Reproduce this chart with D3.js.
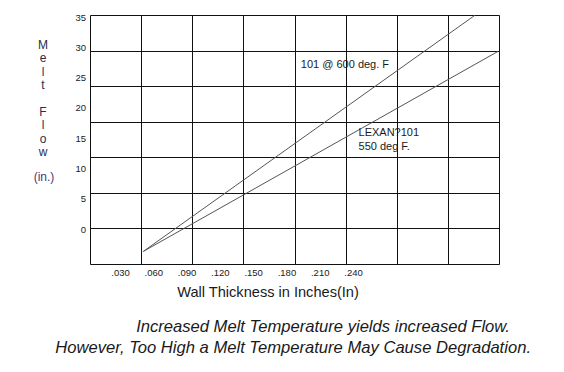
<!DOCTYPE html>
<meta charset="utf-8">
<style>

body { margin: 0; background: #fff; }

text {
  font-family: "Liberation Sans", Arial, sans-serif;
  fill: #1a1a1a;
}

.grid line {
  stroke: #111;
  stroke-width: 1px;
}

.flow {
  fill: none;
  stroke: #555;
  stroke-width: 1px;
}

.tick text { font-size: 9.5px; }

</style>
<svg width="564" height="372"></svg>
<script src="https://d3js.org/d3.v7.min.js"></script>
<script>

// tick labels as printed on the chart
var xTickValues = [0.03, 0.06, 0.09, 0.12, 0.15, 0.18, 0.21, 0.24],
    xTickLabels = [".030", ".060", ".090", ".120", ".150", ".180", ".210", ".240"],
    yTickValues = [0, 5, 10, 15, 20, 25, 30, 35];

// melt flow lines, [wall thickness, melt flow]
var flow600 = [[0.051, -3.7], [0.350, 35.3]],
    flow550 = [[0.051, -3.7], [0.3705, 29.3]];

var labels = [
  {x: 0.193, y: 26.6, lines: ["101 @ 600 deg. F"]},
  {x: 0.245, y: 15.3, lines: ["LEXAN?101", "550 deg F."]}
];

var yTitle = ["M", "e", "l", "t", "", "F", "l", "o", "w"];

var svg = d3.select("svg");

var x = d3.scaleLinear().domain([0.03, 0.24]).range([120, 353]),
    y = d3.scaleLinear().domain([0, 35]).range([229, 17]);

// the grid on this chart is drawn in its own cells, not on the ticks
var gx = d3.scaleLinear().domain([0, 8]).range([90, 499]),
    gy = d3.scaleLinear().domain([0, 7]).range([15, 264]);

function px(v) { return Math.round(v) + 0.5; }

var grid = svg.append("g").attr("class", "grid");

grid.selectAll(".v")
  .data(d3.range(9))
  .enter().append("line")
    .attr("x1", function(d) { return px(gx(d)); })
    .attr("x2", function(d) { return px(gx(d)); })
    .attr("y1", px(gy(0)))
    .attr("y2", px(gy(7)));

grid.selectAll(".h")
  .data(d3.range(8))
  .enter().append("line")
    .attr("x1", px(gx(0)))
    .attr("x2", px(gx(8)))
    .attr("y1", function(d) { return px(gy(d)); })
    .attr("y2", function(d) { return px(gy(d)); });

var line = d3.line()
    .x(function(d) { return x(d[0]); })
    .y(function(d) { return y(d[1]); });

svg.selectAll(".flow")
  .data([flow600, flow550])
  .enter().append("path")
    .attr("class", "flow")
    .attr("d", line);

var xAxis = svg.append("g")
    .attr("transform", "translate(0,266)")
    .call(d3.axisBottom(x)
      .tickValues(xTickValues)
      .tickFormat(function(d, i) { return xTickLabels[i]; })
      .tickSize(0)
      .tickPadding(3));

var yAxis = svg.append("g")
    .attr("transform", "translate(86,0)")
    .call(d3.axisLeft(y)
      .tickValues(yTickValues)
      .tickSize(0)
      .tickPadding(0));

xAxis.select(".domain").remove();
yAxis.select(".domain").remove();
svg.selectAll(".tick text").attr("fill", "#1a1a1a").style("font-family", "'Liberation Sans', Arial, sans-serif");

labels.forEach(function(l) {
  var t = svg.append("text")
      .attr("x", x(l.x))
      .attr("y", y(l.y))
      .style("font-size", "11px");
  t.selectAll("tspan")
    .data(l.lines)
    .enter().append("tspan")
      .attr("x", x(l.x))
      .attr("dy", function(d, i) { return i ? "1.2em" : 0; })
      .text(function(d) { return d; });
});

svg.selectAll(".ytitle")
  .data(yTitle)
  .enter().append("text")
    .attr("x", 43)
    .attr("y", function(d, i) { return 49 + i * 13.4; })
    .attr("text-anchor", "middle")
    .style("font-size", "12px")
    .style("fill", "#2c2c4a")
    .text(function(d) { return d; });

svg.append("text")
    .attr("x", 44)
    .attr("y", 181)
    .attr("text-anchor", "middle")
    .style("font-size", "12px")
    .style("fill", "#4a3580")
    .text("(in.)");

svg.append("text")
    .attr("x", 268)
    .attr("y", 297)
    .attr("text-anchor", "middle")
    .style("font-size", "14.6px")
    .text("Wall Thickness in Inches(In)");

svg.append("text")
    .attr("x", 510)
    .attr("y", 332)
    .attr("text-anchor", "end")
    .style("font-size", "16.6px")
    .style("font-style", "italic")
    .text("Increased Melt Temperature yields increased Flow.");

svg.append("text")
    .attr("x", 531)
    .attr("y", 353)
    .attr("text-anchor", "end")
    .style("font-size", "16.6px")
    .style("font-style", "italic")
    .text("However, Too High a Melt Temperature May Cause Degradation.");

</script>
